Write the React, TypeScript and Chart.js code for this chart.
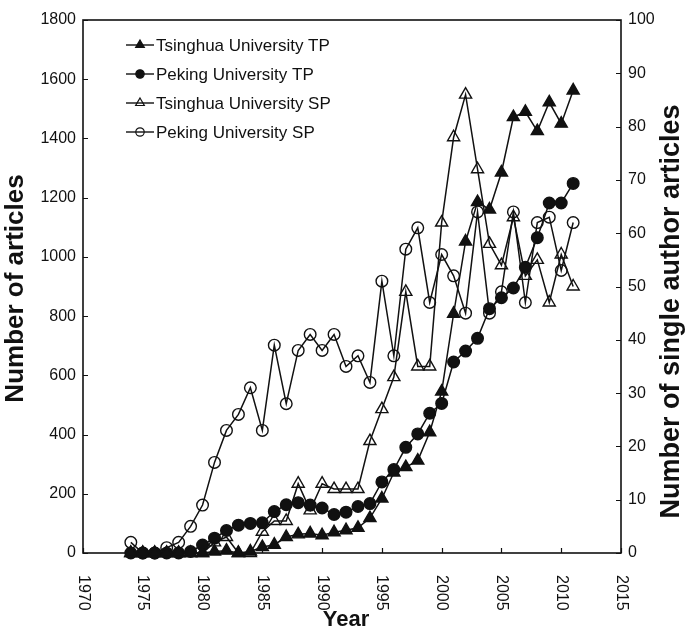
import React, { useEffect, useRef } from "react";
import { Chart, registerables } from "chart.js";

Chart.register(...registerables);

// ---------- data ----------
const years = [
  1974, 1975, 1976, 1977, 1978, 1979, 1980, 1981, 1982, 1983, 1984, 1985, 1986,
  1987, 1988, 1989, 1990, 1991, 1992, 1993, 1994, 1995, 1996, 1997, 1998, 1999,
  2000, 2001, 2002, 2003, 2004, 2005, 2006, 2007, 2008, 2009, 2010, 2011,
];

// total papers (left axis)
const tsinghuaTP = [
  0, 0, 0, 0, 0, 0, 0, 5, 8, 0, 5, 20, 28,
  54, 63, 66, 60, 70, 77, 85, 118, 184, 272, 290, 312, 408,
  545, 808, 1052, 1185, 1160, 1285, 1472, 1490, 1425, 1522, 1450, 1562,
];
const pekingTP = [
  0, 0, 0, 0, 0, 5, 27, 50, 76, 94, 100, 102, 140,
  163, 170, 162, 152, 130, 138, 157, 167, 240, 282, 357, 402, 472,
  505, 645, 682, 725, 825, 862, 895, 965, 1065, 1182, 1182, 1248,
];

// single-author papers (right axis)
const tsinghuaSP = [
  0, 0, 0, 0, 0, 0, 0, 2, 3, 0, 0, 4, 6,
  6, 13, 8, 13, 12, 12, 12, 21, 27, 33, 49, 35, 35,
  62, 78, 86, 72, 58, 54, 63, 52, 55, 47, 56, 50,
];
const pekingSP = [
  2, 0, 0, 1, 2, 5, 9, 17, 23, 26, 31, 23, 39,
  28, 38, 41, 38, 41, 35, 37, 32, 51, 37, 57, 61, 47,
  56, 52, 45, 64, 45, 49, 64, 47, 62, 63, 53, 62,
];

const seriesNames = [
  "Tsinghua University TP",
  "Peking University TP",
  "Tsinghua University SP",
  "Peking University SP",
];

const xTickValues = [1970, 1975, 1980, 1985, 1990, 1995, 2000, 2005, 2010, 2015];
const xTickLabels = ["1970", "1975", "1980", "1985", "1990", "1995", "2000", "2005", "2010", "2015"];
const leftTickValues = [0, 200, 400, 600, 800, 1000, 1200, 1400, 1600, 1800];
const leftTickLabels = ["0", "200", "400", "600", "800", "1000", "1200", "1400", "1600", "1800"];
const rightTickValues = [0, 10, 20, 30, 40, 50, 60, 70, 80, 90, 100];
const rightTickLabels = ["0", "10", "20", "30", "40", "50", "60", "70", "80", "90", "100"];

const xTitle = "Year";
const leftTitle = "Number of articles";
const rightTitle = "Number of single author articles";

// ---------- styling ----------
const FONT = "'Liberation Sans', Arial, Helvetica, sans-serif";
const INK = "#111";

type MarkerKind = { shape: "triangle" | "circle"; filled: boolean };
const markers: MarkerKind[] = [
  { shape: "triangle", filled: true },
  { shape: "circle", filled: true },
  { shape: "triangle", filled: false },
  { shape: "circle", filled: false },
];

function drawMarker(ctx: CanvasRenderingContext2D, m: MarkerKind, x: number, y: number, r: number) {
  ctx.beginPath();
  if (m.shape === "circle") {
    ctx.arc(x, y, r, 0, Math.PI * 2);
  } else {
    const a = -Math.PI / 2;
    for (let k = 0; k < 3; k++) {
      const ang = a + (k * 2 * Math.PI) / 3;
      const px = x + Math.cos(ang) * r;
      const py = y + Math.sin(ang) * r;
      if (k === 0) ctx.moveTo(px, py);
      else ctx.lineTo(px, py);
    }
    ctx.closePath();
  }
  if (m.filled) {
    ctx.fillStyle = INK;
    ctx.fill();
  }
  ctx.strokeStyle = INK;
  ctx.lineWidth = 1.2;
  ctx.stroke();
}

function textRot(ctx: CanvasRenderingContext2D, s: string, x: number, y: number, angle: number, align: CanvasTextAlign) {
  ctx.save();
  ctx.translate(x, y);
  ctx.rotate(angle);
  ctx.textAlign = align;
  ctx.textBaseline = "middle";
  ctx.fillText(s, 0, 0);
  ctx.restore();
}

const axesPlugin = {
  id: "customAxes",
  beforeDatasetsDraw(chart: any) {
    const { ctx, chartArea } = chart;
    const { left, right, top, bottom } = chartArea;
    const xs = chart.scales.x;
    const yl = chart.scales.y;
    const yr = chart.scales.y1;
    ctx.save();
    ctx.strokeStyle = INK;
    ctx.lineWidth = 1.6;
    ctx.strokeRect(left, top, right - left, bottom - top);

    ctx.lineWidth = 1.2;
    ctx.beginPath();
    leftTickValues.forEach((v) => {
      const y = Math.round(yl.getPixelForValue(v)) + 0.5;
      ctx.moveTo(left, y);
      ctx.lineTo(left + 5, y);
    });
    rightTickValues.forEach((v) => {
      const y = Math.round(yr.getPixelForValue(v)) + 0.5;
      ctx.moveTo(right, y);
      ctx.lineTo(right - 5, y);
    });
    xTickValues.forEach((v) => {
      const x = Math.round(xs.getPixelForValue(v)) + 0.5;
      ctx.moveTo(x, bottom);
      ctx.lineTo(x, bottom - 5);
    });
    ctx.stroke();

    // tick labels
    ctx.fillStyle = INK;
    ctx.font = `16px ${FONT}`;
    leftTickValues.forEach((v, i) => {
      textRot(ctx, leftTickLabels[i], left - 7, yl.getPixelForValue(v), 0, "right");
    });
    rightTickValues.forEach((v, i) => {
      textRot(ctx, rightTickLabels[i], right + 7, yr.getPixelForValue(v), 0, "left");
    });
    xTickValues.forEach((v, i) => {
      textRot(ctx, xTickLabels[i], xs.getPixelForValue(v), bottom + 22, Math.PI / 2, "left");
    });

    // titles
    ctx.font = `bold 22px ${FONT}`;
    textRot(ctx, xTitle, (left + right) / 2 - 6, 620, 0, "center");
    ctx.font = `bold 26px ${FONT}`;
    textRot(ctx, leftTitle, 16, (top + bottom) / 2 + 2, -Math.PI / 2, "center");
    ctx.font = `bold 27px ${FONT}`;
    textRot(ctx, rightTitle, 672, (top + bottom) / 2 + 25, -Math.PI / 2, "center");
    ctx.restore();
  },
  afterDatasetsDraw(chart: any) {
    const { ctx } = chart;
    ctx.save();
    ctx.font = `17px ${FONT}`;
    ctx.fillStyle = INK;
    seriesNames.forEach((name, i) => {
      const y = 45 + i * 29;
      ctx.strokeStyle = INK;
      ctx.lineWidth = 1.4;
      ctx.beginPath();
      ctx.moveTo(126, y);
      ctx.lineTo(154, y);
      ctx.stroke();
      drawMarker(ctx, markers[i], 140, y, markers[i].shape === "triangle" ? 5 : 4.2);
      ctx.fillStyle = INK;
      textRot(ctx, name, 156, y + 1, 0, "left");
    });
    ctx.restore();
  },
};

function toPoints(arr: number[]) {
  return years.map((yr, i) => ({ x: yr, y: arr[i] }));
}

function makeDataset(i: number, arr: number[], axis: string) {
  const m = markers[i];
  return {
    label: seriesNames[i],
    data: toPoints(arr),
    yAxisID: axis,
    borderColor: INK,
    borderWidth: 1.5,
    tension: 0,
    pointStyle: m.shape,
    pointRadius: m.shape === "triangle" ? 7 : 5.8,
    pointBackgroundColor: m.filled ? INK : "rgba(0,0,0,0)",
    pointBorderColor: INK,
    pointBorderWidth: 1.4,
    clip: false,
  };
}

export default function App() {
  const ref = useRef<HTMLCanvasElement | null>(null);
  useEffect(() => {
    if (!ref.current) return;
    const chart = new Chart(ref.current, {
      type: "line",
      data: {
        datasets: [
          makeDataset(0, tsinghuaTP, "y"),
          makeDataset(1, pekingTP, "y"),
          makeDataset(2, tsinghuaSP, "y1"),
          makeDataset(3, pekingSP, "y1"),
        ] as any,
      },
      options: {
        responsive: false,
        animation: false,
        devicePixelRatio: 1,
        layout: { padding: { left: 83, right: 64, top: 20, bottom: 79 } },
        plugins: { legend: { display: false }, tooltip: { enabled: false } },
        scales: {
          x: { type: "linear", min: 1970, max: 2015, display: false },
          y: { type: "linear", min: 0, max: 1800, display: false },
          y1: { type: "linear", min: 0, max: 100, display: false, position: "right" },
        },
      },
      plugins: [axesPlugin],
    } as any);
    return () => chart.destroy();
  }, []);
  return (
    <div style={{ position: "absolute", left: 0, top: 0, width: 685, height: 632, background: "#fff" }}>
      <canvas ref={ref} width={685} height={632} style={{ display: "block" }} />
    </div>
  );
}
